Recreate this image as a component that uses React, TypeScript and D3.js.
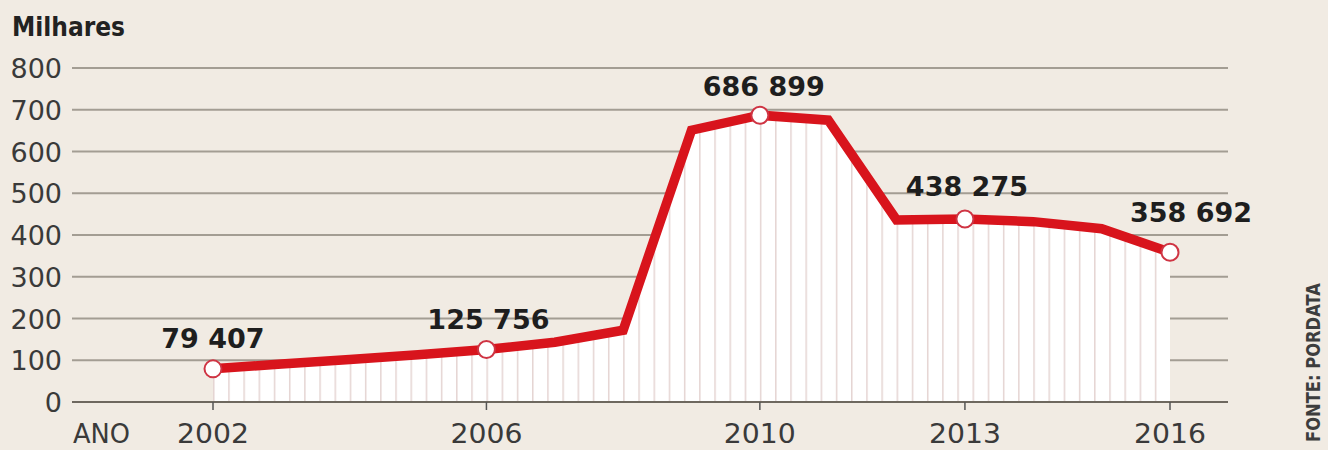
import React from "react";
import * as d3 from "d3";

const years = [2002, 2003, 2004, 2005, 2006, 2007, 2008, 2009, 2010, 2011, 2012, 2013, 2014, 2015, 2016];
const values = [79.407, 91, 102, 113, 125.756, 143, 172, 651, 686.899, 675, 436, 438.275, 432, 415, 358.692];
const labeledYears = [2002, 2006, 2010, 2013, 2016];
const labelTexts = ["79 407", "125 756", "686 899", "438 275", "358 692"];
const yTicks = [0, 100, 200, 300, 400, 500, 600, 700, 800];
const xTickYears = [2002, 2006, 2010, 2013, 2016];

const W = 1328;
const H = 450;
const BG = "#f1ebe3";
const RED = "#d8141c";
const FONT = "'DejaVu Sans', sans-serif";
const labelOffsets: [number, number][] = [[0, -21], [2, -20], [4, -19], [2, -23], [21, -30]];

export default function App() {
  const x = d3.scaleLinear().domain([2002, 2016]).range([213, 1170]);
  const y = d3.scaleLinear().domain([0, 800]).range([402, 68]);
  const pts = years.map((yr, i) => [yr, values[i]] as [number, number]);
  const line = d3.line<[number, number]>().x((d) => x(d[0])).y((d) => y(d[1]))(pts) || "";
  const area = d3
    .area<[number, number]>()
    .x((d) => x(d[0]))
    .y0(y(0))
    .y1((d) => y(d[1]))(pts) || "";
  const step = (x(2003) - x(2002)) / 4.5;
  const gx0 = 72;
  const gx1 = 1228;

  return (
    <svg
      width={W}
      height={H}
      viewBox={`0 0 ${W} ${H}`}
      style={{ position: "absolute", left: 0, top: 0, display: "block" }}
      fontFamily={FONT}
    >
      <defs>
        <pattern id="hatch" patternUnits="userSpaceOnUse" x={x(2002)} y={0} width={step} height={10}>
          <rect width={step} height={10} fill="#ffffff" />
          <line x1={0.75} x2={0.75} y1={0} y2={10} stroke="#e5d5d3" strokeWidth={1.5} />
        </pattern>
      </defs>
      <rect width={W} height={H} fill={BG} />

      <text x={12} y={36} fontSize={26} fontWeight="bold" fill="#222" textLength={113} lengthAdjust="spacingAndGlyphs">
        Milhares
      </text>

      {yTicks.map((t) => (
        <g key={t}>
          {t > 0 && (
            <line x1={gx0} x2={gx1} y1={y(t)} y2={y(t)} stroke="#a39d93" strokeWidth={2} />
          )}
          <text x={62} y={y(t) + 10} fontSize={27} textAnchor="end" fill="#3a3a3a">
            {t}
          </text>
        </g>
      ))}

      <path d={area} fill="url(#hatch)" />
      <line x1={gx0} x2={gx1} y1={y(0)} y2={y(0)} stroke="#6e685f" strokeWidth={2} />
      {xTickYears.map((yr) => (
        <g key={yr}>
          <line x1={x(yr)} x2={x(yr)} y1={y(0)} y2={y(0) + 8} stroke="#555" strokeWidth={1.5} />
          <text x={x(yr)} y={443} fontSize={26} textAnchor="middle" fill="#3a3a3a" textLength={72} lengthAdjust="spacingAndGlyphs">
            {yr}
          </text>
        </g>
      ))}
      <text x={73} y={443} fontSize={26} fill="#3a3a3a" textLength={57} lengthAdjust="spacingAndGlyphs">
        ANO
      </text>

      <path d={line} fill="none" stroke={RED} strokeWidth={9.5} strokeLinejoin="miter" strokeLinecap="butt" />

      {labeledYears.map((yr, i) => {
        const v = values[years.indexOf(yr)];
        return (
          <g key={yr}>
            <circle cx={x(yr)} cy={y(v)} r={8.5} fill="#ffffff" stroke="#cf3443" strokeWidth={2} />
            <text
              x={x(yr) + labelOffsets[i][0]}
              y={y(v) + labelOffsets[i][1]}
              fontSize={27}
              fontWeight="bold"
              textAnchor="middle"
              fill="#1e1e1e"
            >
              {labelTexts[i]}
            </text>
          </g>
        );
      })}

      <text
        transform="translate(1320,442) rotate(-90)"
        fontSize={19}
        fontWeight="bold"
        fill="#3d3d3d"
        textLength={159}
        lengthAdjust="spacingAndGlyphs"
      >
        FONTE: PORDATA
      </text>
    </svg>
  );
}
